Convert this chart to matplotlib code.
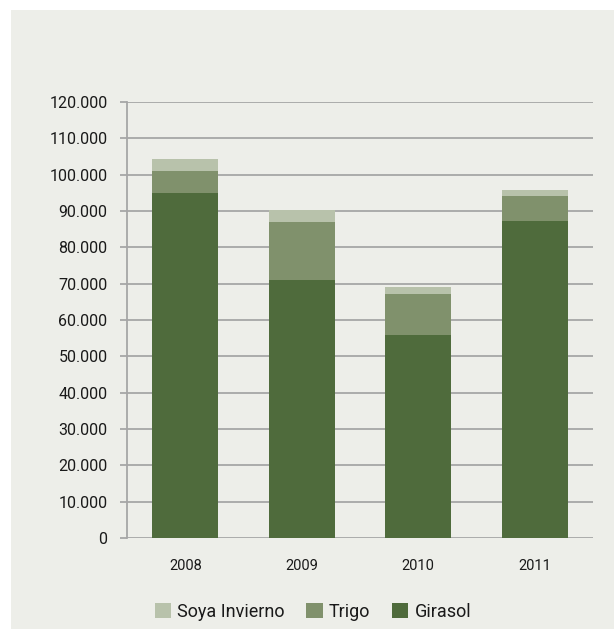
import matplotlib
matplotlib.use("Agg")
import matplotlib.pyplot as plt
from matplotlib.patches import Rectangle
from matplotlib.ticker import FuncFormatter, MultipleLocator

years = ["2008", "2009", "2010", "2011"]
girasol = [95000, 71000, 56000, 87300]
trigo = [6000, 16000, 11200, 6800]
soya = [3300, 3300, 1900, 1700]
series_names = ["Soya Invierno", "Trigo", "Girasol"]

c_gir = "#4F6B3C"
c_tri = "#80916C"
c_soy = "#B8C2AB"
bg = "#EDEEE9"
grid_c = "#A6A6A6"
txt = "#1a1a1a"

plt.rcParams['font.family'] = ['Roboto', 'DejaVu Sans']

W, H = 614, 629
fig = plt.figure(figsize=(W / 100, H / 100), dpi=100)
fig.patch.set_facecolor("white")
fig.add_artist(Rectangle((11 / W, 0), 1 - 11 / W, (H - 10) / H,
                         transform=fig.transFigure, facecolor=bg,
                         edgecolor="none", zorder=-10))

ax = fig.add_axes([127 / W, (H - 538) / H, (593 - 127) / W, (538 - 102) / H])
ax.set_facecolor(bg)

x = list(range(len(years)))
bw = 0.567
b1 = ax.bar(x, girasol, width=bw, color=c_gir, zorder=3, label="Girasol")
b2 = ax.bar(x, trigo, width=bw, bottom=girasol, color=c_tri, zorder=3, label="Trigo")
bottom2 = [g + t for g, t in zip(girasol, trigo)]
b3 = ax.bar(x, soya, width=bw, bottom=bottom2, color=c_soy, zorder=3, label="Soya Invierno")

ax.set_xlim(-0.5, 3.5)
ax.set_ylim(0, 120000)
ax.yaxis.set_major_locator(MultipleLocator(10000))
ax.yaxis.set_major_formatter(FuncFormatter(lambda v, p: "0" if v == 0 else f"{int(v):,}".replace(",", ".")))
ax.grid(axis="y", color=grid_c, linewidth=1.3, zorder=1)
ax.set_axisbelow(True)
for s in ["top", "right", "bottom"]:
    ax.spines[s].set_visible(False)
ax.spines["left"].set_color(grid_c)
ax.spines["left"].set_linewidth(1.3)
ax.tick_params(axis="y", length=5, width=1.3, color=grid_c, labelsize=11.5, pad=9, labelcolor=txt)
ax.tick_params(axis="x", length=0, labelsize=10.5, pad=15, labelcolor=txt)
ax.set_xticks(x)
ax.set_xticklabels(years)

leg = fig.legend([b3, b2, b1], series_names, loc="center", bbox_to_anchor=(313 / W, 17 / H),
                 ncol=3, frameon=False, fontsize=13, handlelength=0.9, handleheight=0.9,
                 handletextpad=0.35, columnspacing=1.2, labelcolor=txt)

fig.savefig("out.png", dpi=100, facecolor=fig.get_facecolor())
